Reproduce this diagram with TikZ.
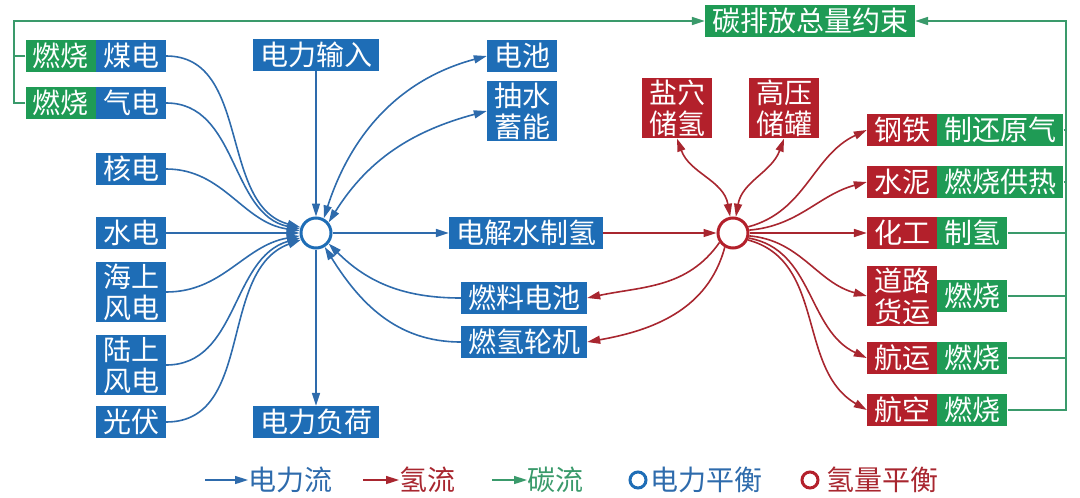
\documentclass[tikz,border=0pt]{standalone}
\usepackage{fontspec}
\setmainfont{Noto Sans CJK SC}
\usetikzlibrary{arrows.meta, calc}
\definecolor{elec}{HTML}{1E6DB6}
\definecolor{hydro}{HTML}{B3202B}
\definecolor{carbon}{HTML}{1F9B55}
\definecolor{elecline}{HTML}{2E6BAC}
\definecolor{hydroline}{HTML}{A8262F}
\definecolor{carbonline}{HTML}{3A9A6B}

\tikzset{
  flowbox/.style={text=white, font=\fontsize{28}{31}\selectfont, align=center,
    inner xsep=7pt, inner ysep=2pt, minimum height=32pt},
  ebox/.style={flowbox, fill=elec},
  hbox/.style={flowbox, fill=hydro},
  cbox/.style={flowbox, fill=carbon},
  eflow/.style={elecline, line width=1.6pt, -{Triangle[length=13pt,width=8pt]}},
  ebi/.style={eflow, {Triangle[length=13pt,width=8pt]}-{Triangle[length=13pt,width=8pt]}},
  hflow/.style={hydroline, line width=1.6pt, -{Triangle[length=13pt,width=8pt]}},
  hbi/.style={hflow, {Triangle[length=13pt,width=8pt]}-{Triangle[length=13pt,width=8pt]}},
  cline/.style={carbonline, line width=1.6pt},
  cflow/.style={cline, -{Triangle[length=13pt,width=8pt]}},
  balance/.style={circle, draw, line width=3pt, minimum size=30pt, inner sep=0pt, fill=white},
  legend/.style={font=\fontsize{28}{31}\selectfont, anchor=west, inner sep=0pt}
}

\begin{document}
\begin{tikzpicture}[x=1pt, y=-1pt]
  \useasboundingbox (0,0) rectangle (1080,498);
  % Stromseite
  \node[ebox] (coal) at (131,56) {煤电};
  \node[cbox, anchor=east] (coalc) at (coal.west) {燃烧};
  \node[ebox] (gas) at (131,103) {气电};
  \node[cbox, anchor=east] (gasc) at (gas.west) {燃烧};
  \node[ebox] (nuc) at (131,169) {核电};
  \node[ebox] (hyd) at (131,233) {水电};
  \node[ebox] (offw) at (131,292) {海上\\风电};
  \node[ebox] (onw) at (131,365) {陆上\\风电};
  \node[ebox] (pv) at (131,422) {光伏};
  \node[ebox] (import) at (316,55) {电力输入};
  \node[ebox] (load) at (316,422) {电力负荷};
  \node[ebox] (batt) at (522,56) {电池};
  \node[ebox] (pump) at (522,111) {抽水\\蓄能};
  \node[ebox] (elys) at (526,233) {电解水制氢};
  \node[ebox] (fc) at (524,298) {燃料电池};
  \node[ebox] (gt) at (524,342) {燃氢轮机};
  \node[balance, draw=elec] (pb) at (316,233) {};
  % Wasserstoffseite
  \node[hbox] (salt) at (677,108) {盐穴\\储氢};
  \node[hbox] (tank) at (784,108) {高压\\储罐};
  \node[balance, draw=hydro] (ph) at (733,233) {};
  \node[hbox] (steel) at (902,130) {钢铁};
  \node[cbox, anchor=west] (steelc) at (steel.east) {制还原气};
  \node[hbox] (cem) at (902,182) {水泥};
  \node[cbox, anchor=west] (cemc) at (cem.east) {燃烧供热};
  \node[hbox] (chem) at (902,233) {化工};
  \node[cbox, anchor=west] (chemc) at (chem.east) {制氢};
  \node[hbox] (road) at (902,296) {道路\\货运};
  \node[cbox, anchor=west] (roadc) at (road.east) {燃烧};
  \node[hbox] (ship) at (902,358) {航运};
  \node[cbox, anchor=west] (shipc) at (ship.east) {燃烧};
  \node[hbox] (air) at (902,410) {航空};
  \node[cbox, anchor=west] (airc) at (air.east) {燃烧};
  \node[cbox] (co2) at (810,21) {碳排放总量约束};
  % Stromfluesse
  \draw[eflow] (coal.east) to[out=0, in=165] (pb.160);
  \draw[eflow] (gas.east) to[out=0, in=168] (pb.166);
  \draw[eflow] (nuc.east) to[out=0, in=172] (pb.172);
  \draw[eflow] (hyd) -- (pb);
  \draw[eflow] (offw.east) to[out=0, in=190] (pb.190);
  \draw[eflow] (onw.east) to[out=0, in=196] (pb.197);
  \draw[eflow] (pv.east) to[out=0, in=200] (pb.204);
  \draw[eflow] (import) -- (pb);
  \draw[eflow] (pb) -- (load);
  \draw[eflow] (pb) -- (elys);
  \draw[ebi] (pb.62) to[out=72, in=195] (batt.west);
  \draw[ebi] (pb.40) to[out=58, in=195] (pump.west);
  \draw[eflow] (fc.west) to[out=180, in=-45] (pb.-40);
  \draw[eflow] (gt.west) to[out=180, in=-58] (pb.-58);
  % Wasserstofffluesse
  \draw[hflow] (elys) -- (ph);
  \draw[hbi] (ph.100) to[out=100, in=-70] (salt.south);
  \draw[hbi] (ph.80) to[out=80, in=-110] (tank.south);
  \draw[hflow] (ph.215) to[out=235, in=12] (fc.east);
  \draw[hflow] (ph.240) to[out=255, in=10] (gt.east);
  \draw[hflow] (ph.22) to[out=15, in=205] (steel.west);
  \draw[hflow] (ph.10) to[out=5, in=195] (cem.west);
  \draw[hflow] (ph) -- (chem);
  \draw[hflow] (ph.-10) to[out=-5, in=165] (road.west);
  \draw[hflow] (ph.-18) to[out=-10, in=155] (ship.west);
  \draw[hflow] (ph.-25) to[out=-15, in=150] (air.west);
  % Kohlenstofffluesse
  \coordinate (busl) at (14,21);
  \coordinate (busr) at (1066,21);
  \draw[cline] (coalc.west) -- (coalc.west -| busl);
  \draw[cflow] (gasc.west) -- (gasc.west -| busl) -- (busl) -- (co2.west);
  \foreach \n in {steelc, cemc, chemc, roadc, shipc}
    \draw[cline] (\n.east) -- (\n.east -| busr);
  \draw[cflow] (airc.east) -| (busr) -- (co2.east);
  % Legende
  \node[legend, text=elecline] (lge) at (248,480) {电力流};
  \coordinate (lges) at (205,480);
  \draw[eflow] (lges) -- (lge.west);
  \node[legend, text=hydroline] (lgh) at (399,480) {氢流};
  \coordinate (lghs) at (363,480);
  \draw[hflow] (lghs) -- (lgh.west);
  \node[legend, text=carbonline] (lgc) at (527,480) {碳流};
  \coordinate (lgcs) at (492,480);
  \draw[cflow] (lgcs) -- (lgc.west);
  \node[circle, draw=elec, line width=3pt, minimum size=16pt, inner sep=0pt] (lgpb) at (638,480) {};
  \node[legend, text=elecline] (lgpbt) at (650,480) {电力平衡};
  \node[circle, draw=hydro, line width=3pt, minimum size=16pt, inner sep=0pt] (lgph) at (810,480) {};
  \node[legend, text=hydroline] (lgpht) at (826,480) {氢量平衡};
\end{tikzpicture}
\end{document}
